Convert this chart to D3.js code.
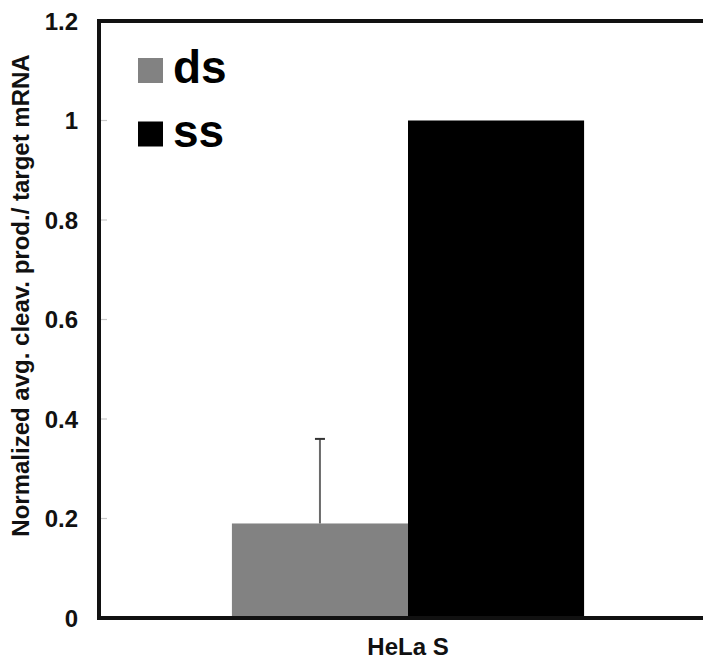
<!DOCTYPE html>
<html>
<head>
<meta charset="utf-8">
<script src="https://cdn.jsdelivr.net/npm/d3@7"></script>
<style>
  html, body { margin: 0; padding: 0; background: #fff; }
  svg { display: block; overflow: hidden; }
  text { font-family: "Liberation Sans", Arial, sans-serif; }
</style>
</head>
<body>
<svg id="chart" width="703" height="660"></svg>
<script>
// Cleavage product per target mRNA, normalized to the ss value
const categories = ["HeLa S"];
const seriesNames = ["ds", "ss"];
const seriesColors = ["#828282", "#000000"];
const dsValues = [0.19];
const ssValues = [1.0];
const dsErrors = [0.17];
const ssErrors = [0];
const yTicks = [0, 0.2, 0.4, 0.6, 0.8, 1, 1.2];
const yTickLabels = ["0", "0.2", "0.4", "0.6", "0.8", "1", "1.2"];
const yTitle = "Normalized avg. cleav. prod./ target mRNA";

const svg = d3.select("#chart");
const plot = { left: 99, right: 717, top: 21, bottom: 618 };

const y = d3.scaleLinear().domain([0, 1.2]).range([plot.bottom, plot.top]);
const x0 = d3.scaleBand().domain(categories).range([plot.left, plot.right])
  .paddingInner(0.274).paddingOuter(0.274);
const x1 = d3.scaleBand().domain(seriesNames).range([0, x0.bandwidth()]);

const rows = categories.map((c, i) => ({
  category: c,
  bars: [
    { key: "ds", value: dsValues[i], err: dsErrors[i] },
    { key: "ss", value: ssValues[i], err: ssErrors[i] }
  ]
}));
const color = d3.scaleOrdinal().domain(seriesNames).range(seriesColors);

// faint inward tick marks on the value axis
svg.append("g").selectAll("line").data(yTicks).join("line")
  .attr("x1", plot.left).attr("x2", plot.left + 8)
  .attr("y1", d => y(d)).attr("y2", d => y(d))
  .attr("stroke", "#c8c8c8").attr("stroke-width", 1.2);

// tick labels
svg.append("g").selectAll("text").data(yTicks).join("text")
  .attr("x", 78).attr("y", d => y(d))
  .attr("dy", "0.36em")
  .attr("text-anchor", "end")
  .attr("font-size", 24).attr("font-weight", "bold").attr("fill", "#111")
  .text((d, i) => yTickLabels[i]);

// bars
const groups = svg.append("g").selectAll("g").data(rows).join("g")
  .attr("transform", d => `translate(${x0(d.category)},0)`);

groups.selectAll("rect").data(d => d.bars).join("rect")
  .attr("x", d => x1(d.key))
  .attr("width", x1.bandwidth())
  .attr("y", d => y(d.value))
  .attr("height", d => y(0) - y(d.value))
  .attr("fill", d => color(d.key));

// error bars (upper side only)
const errs = groups.selectAll("g.err").data(d => d.bars.filter(b => b.err > 0)).join("g")
  .attr("class", "err");
errs.append("line")
  .attr("x1", d => x1(d.key) + x1.bandwidth() / 2)
  .attr("x2", d => x1(d.key) + x1.bandwidth() / 2)
  .attr("y1", d => y(d.value))
  .attr("y2", d => y(d.value + d.err))
  .attr("stroke", "#6a6a6a").attr("stroke-width", 2);
errs.append("line")
  .attr("x1", d => x1(d.key) + x1.bandwidth() / 2 - 5)
  .attr("x2", d => x1(d.key) + x1.bandwidth() / 2 + 5)
  .attr("y1", d => y(d.value + d.err))
  .attr("y2", d => y(d.value + d.err))
  .attr("stroke", "#333").attr("stroke-width", 2);

// frame: left, bottom and top lines
const frame = svg.append("g").attr("stroke", "#111").attr("stroke-width", 4).attr("fill", "none");
frame.append("path")
  .attr("d", `M${plot.right},${plot.top}H${plot.left}V${plot.bottom}H${plot.right}`)
  .attr("stroke-linejoin", "miter");

// category label
svg.append("g").selectAll("text").data(categories).join("text")
  .attr("x", d => x0(d) + x0.bandwidth() / 2)
  .attr("y", 655)
  .attr("text-anchor", "middle")
  .attr("font-size", 24).attr("font-weight", "bold").attr("fill", "#111")
  .text(d => d);

// y-axis title
svg.append("text")
  .attr("transform", `translate(29,${(53 + 538) / 2}) rotate(-90)`)
  .attr("text-anchor", "middle")
  .attr("font-size", 24).attr("font-weight", "bold").attr("fill", "#111")
  .text(yTitle);

// legend
const legend = svg.append("g").selectAll("g").data(seriesNames).join("g")
  .attr("transform", (d, i) => `translate(138,${58 + i * 63.5})`);
legend.append("rect")
  .attr("width", 25).attr("height", 25)
  .attr("fill", d => color(d));
legend.append("text")
  .attr("x", 35).attr("y", 25)
  .attr("font-size", 46).attr("font-weight", "bold").attr("fill", "#000")
  .text(d => d);
</script>
</body>
</html>
